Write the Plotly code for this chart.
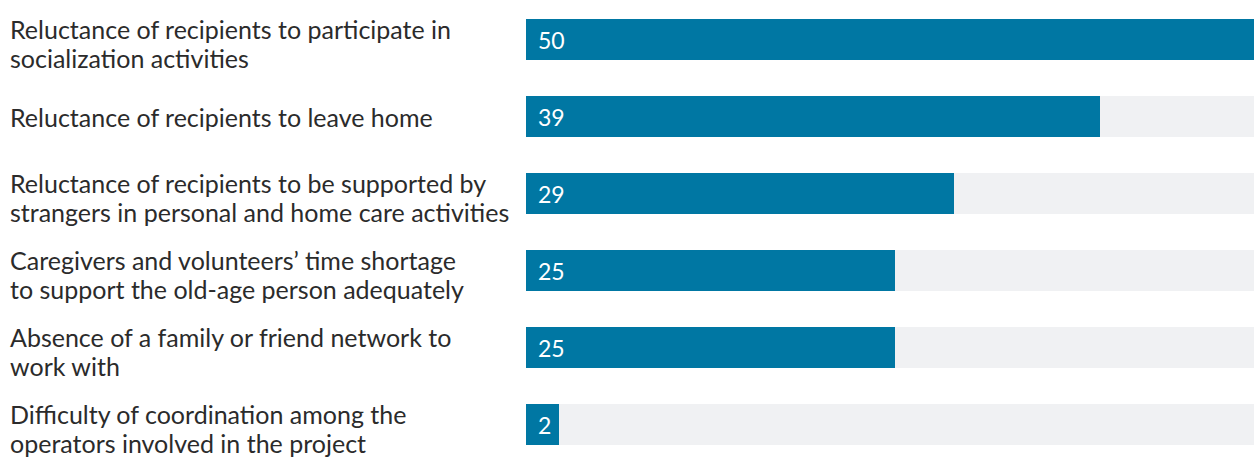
import plotly.graph_objects as go

categories = [
    "Reluctance of recipients to participate in<br>socialization activities",
    "Reluctance of recipients to leave home",
    "Reluctance of recipients to be supported by<br>strangers in personal and home care activities",
    "Caregivers and volunteers’ time shortage<br>to support the old-age person adequately",
    "Absence of a family or friend network to<br>work with",
    "Difficulty of coordination among the<br>operators involved in the project",
]
values = [49.5, 39.0, 29.1, 25.1, 25.1, 2.25]
value_labels = ["50", "39", "29", "25", "25", "2"]

BLUE = "#0077a3"
GREY = "#f0f1f3"
FONT = "Lato"
LINE_H = 29

idx = list(range(len(categories)))
vmax = max(values)

fig = go.Figure()
fig.add_trace(go.Bar(
    y=idx, x=[vmax] * len(values), orientation="h",
    marker=dict(color=GREY, line=dict(width=0)), width=0.532,
    hoverinfo="skip", showlegend=False,
))
fig.add_trace(go.Bar(
    y=idx, x=values, orientation="h",
    marker=dict(color=BLUE, line=dict(width=0)), width=0.532,
    showlegend=False,
))

for i, (cat, lab) in enumerate(zip(categories, value_labels)):
    lines = cat.split("<br>")
    n = len(lines)
    for k, line in enumerate(lines):
        shift = ((n - 1) / 2 - k) * LINE_H - (4 if n > 1 else 0)
        fig.add_annotation(
            xref="paper", yref="y", x=0, y=i, xshift=-518,
            xanchor="left", yanchor="middle", align="left",
            text=line, showarrow=False,
            font=dict(family=FONT, size=25, color="#2b2b2b"),
            yshift=shift,
        )
    fig.add_annotation(
        xref="x", yref="y", x=0, y=i, xshift=10,
        xanchor="left", yanchor="middle",
        text=lab, showarrow=False,
        font=dict(family=FONT, size=23, color="white"),
    )

fig.update_layout(
    width=1254, height=458,
    margin=dict(l=526, r=0, t=0, b=0),
    barmode="overlay", bargap=0,
    plot_bgcolor="white", paper_bgcolor="white",
    xaxis=dict(range=[0, vmax], visible=False, showgrid=False, zeroline=False),
    yaxis=dict(range=[5.435, -0.513], visible=False, showgrid=False, zeroline=False),
    font=dict(family=FONT),
)

fig.write_html("out.html")
